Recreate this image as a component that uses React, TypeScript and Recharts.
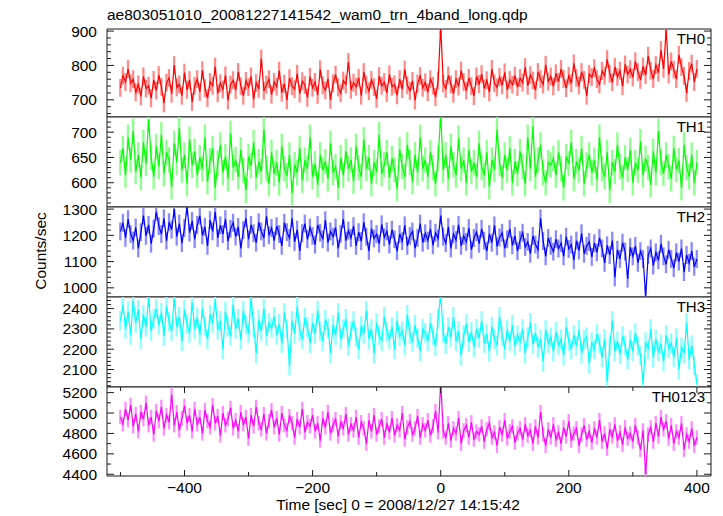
import React from "react";
import { ComposedChart, Line, Bar, XAxis, YAxis, ReferenceArea } from "recharts";

// light curve, 4 s bins starting at -500 s
const START_SEC = -500;
const BIN_SEC = 4;

const TH0 = [
  735, 770, 752, 790, 748, 760, 722, 745, 710, 768, 733, 741, 705, 758, 727,
  772, 738, 690, 750, 764, 718, 801, 736, 745, 712, 779, 729, 758, 694, 741,
  760, 723, 786, 734, 705, 752, 741, 796, 719, 748, 730, 771, 698, 744, 757,
  728, 781, 740, 712, 755, 737, 768, 702, 749, 732, 820, 726, 744, 760, 715,
  752, 738, 785, 721, 747, 699, 763, 740, 731, 776, 718, 754, 743, 706, 767,
  735, 752, 714, 789, 742, 728, 761, 700, 748, 773, 736, 719, 756, 745, 810,
  729, 750, 738, 764, 712, 781, 744, 725, 758, 737, 703, 769, 741, 752, 720,
  774, 738, 745, 713, 760, 731, 788, 742, 726, 755, 698, 747, 769, 735, 751,
  722, 760, 741, 708, 756, 915,
  748, 732, 771, 745, 718, 760, 739, 785, 752, 727, 764, 740, 711, 768,
  746, 775, 733, 757, 722, 790, 748, 736, 766, 742, 780, 729, 758, 744, 770,
  737, 763, 750, 795, 741, 772, 756, 728, 781, 760, 745, 802, 753, 768, 739,
  777, 752, 790, 761, 734, 770, 748, 806, 764, 742, 781, 758, 712, 775, 766,
  792, 760, 745, 784, 770, 818, 776, 751, 796, 767, 785, 740, 803, 774, 789,
  765, 812, 781, 758, 797, 772, 828, 785, 761, 801, 779, 845, 790, 905, 774,
  812, 788, 760, 831, 795, 770, 720, 784, 805, 752, 790,
];

const TH1 = [
  640, 668, 615, 690, 645, 702, 622, 655, 610, 680, 638, 725, 650, 612, 672,
  632, 695, 618, 660, 645, 592, 678, 640, 708, 625, 655, 598, 686, 635, 662,
  615, 650, 628, 690, 602, 644, 668, 590, 639, 675, 620, 652, 608, 698, 630,
  646, 612, 665, 625, 585, 652, 634, 680, 610, 642, 622, 705, 628, 598, 660,
  618, 640, 600, 672, 628, 614, 655, 580, 636, 620, 668, 605, 645, 628, 690,
  612, 638, 596, 655, 625, 642, 608, 678, 620, 632, 590, 650, 615, 662, 628,
  645, 603, 672, 630, 612, 685, 628, 650, 598, 640, 622, 695, 618, 636, 660,
  610, 648, 626, 588, 666, 632, 612, 675, 640, 602, 655, 620, 690, 628, 645,
  612, 660, 630, 598, 648, 735,
  625, 655, 608, 672, 636, 615, 688, 628, 645, 600, 665, 622, 640, 612,
  678, 630, 615, 660, 592, 645, 626, 705, 638, 610, 655, 625, 668, 600, 642,
  618, 662, 632, 598, 690, 628, 712, 612, 645, 675, 620, 600, 640, 635, 648,
  615, 660, 628, 590, 652, 638, 680, 608, 642, 625, 668, 598, 635, 655, 620,
  645, 606, 690, 628, 612, 660, 585, 640, 622, 675, 632, 610, 650, 626, 664,
  600, 640, 625, 682, 615, 648, 630, 596, 662, 620, 702, 640, 618, 655, 632,
  608, 668, 626, 644, 590, 675, 630, 612, 655, 600, 640,
];

const TH2 = [
  1215, 1248, 1190, 1262, 1205, 1180, 1230, 1150, 1212, 1275, 1198, 1240, 1168, 1225, 1290,
  1235, 1205, 1265, 1180, 1250, 1222, 1300, 1195, 1245, 1170, 1228, 1310, 1210, 1255, 1185,
  1240, 1275, 1200, 1232, 1160, 1258, 1215, 1290, 1190, 1238, 1205, 1262, 1178, 1225, 1248,
  1195, 1232, 1150, 1220, 1265, 1185, 1240, 1208, 1172, 1250, 1215, 1190, 1272, 1200, 1228,
  1180, 1235, 1205, 1160, 1248, 1212, 1190, 1265, 1175, 1222, 1140, 1208, 1245, 1185, 1230,
  1198, 1165, 1240, 1210, 1185, 1258, 1172, 1215, 1195, 1230, 1150, 1205, 1262, 1180, 1218,
  1190, 1235, 1160, 1212, 1178, 1250, 1195, 1140, 1225, 1188, 1205, 1168, 1242, 1192, 1215,
  1165, 1222, 1185, 1140, 1205, 1178, 1238, 1160, 1198, 1215, 1150, 1190, 1245, 1172, 1208,
  1180, 1225, 1162, 1210, 1188, 1275,
  1195, 1170, 1232, 1150, 1205, 1182, 1240, 1160, 1198, 1175, 1228, 1145, 1190, 1212,
  1168, 1225, 1180, 1140, 1205, 1172, 1238, 1158, 1192, 1210, 1150, 1185, 1225, 1162, 1198,
  1140, 1182, 1210, 1155, 1175, 1130, 1198, 1165, 1145, 1265, 1178, 1120, 1190, 1160, 1138,
  1185, 1150, 1170, 1120, 1195, 1148, 1165, 1105, 1180, 1142, 1208, 1130, 1160, 1175, 1118,
  1170, 1135, 1190, 1150, 1095, 1162, 1125, 1180, 1040, 1145, 1110, 1172, 1138, 1035, 1155,
  1120, 1160, 1095, 1140, 1110, 970, 1125, 1150, 1085, 1135, 1105, 1168, 1120, 1090, 1145,
  1110, 1075, 1135, 1100, 1150, 1060, 1125, 1095, 1140, 1080, 1110,
];

const TH3 = [
  2340, 2420, 2300, 2385, 2270, 2440, 2330, 2395, 2250, 2370, 2310, 2455, 2290, 2350, 2400,
  2320, 2380, 2265, 2410, 2335, 2290, 2450, 2310, 2360, 2240, 2395, 2325, 2280, 2430, 2300,
  2355, 2270, 2400, 2315, 2250, 2370, 2330, 2445, 2295, 2340, 2200, 2385, 2310, 2265, 2420,
  2300, 2350, 2245, 2390, 2320, 2280, 2455, 2310, 2180, 2345, 2290, 2400, 2265, 2330, 2305,
  2360, 2270, 2325, 2230, 2380, 2300, 2120, 2340, 2275, 2410, 2290, 2250, 2355, 2310, 2230,
  2330, 2275, 2390, 2290, 2240, 2345, 2305, 2180, 2320, 2270, 2380, 2250, 2300, 2350, 2215,
  2290, 2340, 2260, 2200, 2315, 2275, 2390, 2250, 2300, 2180, 2330, 2270, 2240, 2360, 2285,
  2250, 2310, 2200, 2340, 2265, 2290, 2220, 2370, 2275, 2235, 2320, 2255, 2190, 2300, 2280,
  2240, 2330, 2270, 2215, 2350, 2470,
  2280, 2225, 2310, 2260, 2360, 2240, 2290, 2170, 2270, 2325, 2235, 2285, 2210, 2300,
  2255, 2340, 2230, 2275, 2190, 2310, 2250, 2220, 2360, 2265, 2200, 2295, 2240, 2320, 2215,
  2270, 2235, 2300, 2180, 2260, 2330, 2225, 2280, 2210, 2250, 2140, 2295, 2230, 2260, 2190,
  2285, 2220, 2250, 2170, 2310, 2240, 2200, 2270, 2215, 2295, 2180, 2245, 2260, 2130, 2235,
  2200, 2275, 2230, 2160, 2250, 2040, 2215, 2340, 2190, 2240, 2175, 2265, 2220, 2150, 2245,
  2190, 2280, 2215, 2170, 2030, 2235, 2200, 2300, 2160, 2250, 2190, 2225, 2140, 2270, 2205,
  2230, 2160, 2255, 2100, 2210, 2180, 2330, 2150, 2220, 2120, 2030,
];

const TH0123 = [
  4960, 4890, 5040, 4930, 5080, 4870, 4990, 4820, 5010, 4940, 5100, 4880, 4960, 4790, 5020,
  4920, 5060, 4850, 4980, 4910, 5180, 4880, 5010, 4830, 4950, 5070, 4900, 4980, 4820, 5040,
  4890, 4960, 4800, 5030, 4920, 4860, 5080, 4900, 4970, 4780, 5000, 4880, 4940, 5050, 4850,
  4930, 4820, 5010, 4890, 4960, 4750, 4980, 4870, 5060, 4900, 4840, 4990, 4800, 4920, 5030,
  4860, 4950, 4790, 5000, 4880, 4830, 4970, 4900, 4760, 4940, 4860, 5040, 4810, 4910, 4870,
  4980, 4820, 4900, 4730, 4950, 4860, 5010, 4800, 4880, 4940, 4770, 4910, 4850, 4990, 4790,
  4890, 4830, 4960, 4760, 4910, 4850, 4700, 4930, 4820, 4980, 4790, 4870, 4940, 4760, 4900,
  4810, 4950, 4780, 4880, 4830, 5000, 4740, 4860, 4920, 4790, 4850, 4970, 4760, 4890, 4830,
  4930, 4780, 4870, 5020, 4810, 5300,
  4820, 4760, 4900, 4730, 4850, 4800, 4950, 4700, 4830, 4880, 4760, 4910, 4740, 4820,
  4790, 4870, 4720, 4840, 4900, 4760, 4810, 4680, 4860, 4790, 4930, 4750, 4820, 4870, 4710,
  4800, 4850, 4740, 4890, 4780, 4830, 4700, 4870, 4760, 5010, 4790, 4680, 4840, 4760, 4890,
  4740, 4810, 4700, 4860, 4770, 4920, 4730, 4800, 4850, 4680, 4790, 4880, 4740, 4820, 4710,
  4850, 4760, 4930, 4720, 4800, 4650, 4840, 4770, 4890, 4730, 4810, 4690, 4860, 4750, 4800,
  4720, 4880, 4760, 4640, 4830, 4400, 4790, 4860, 4720, 4900, 4770, 4960, 4840, 4920, 4750,
  4880, 4700, 4820, 4760, 4900, 4640, 4790, 4720, 4850, 4680, 4760,
];

// 1-sigma errors (counts/sec)
const TH0_ERR = 26;
const TH1_ERR = 25;
const TH2_ERR = 34;
const TH3_ERR = 48;
const TH0123_ERR = 70;

const X_TICKS = [-500, -400, -300, -200, -100, 0, 100, 200, 300, 400];
const X_MAJOR = [-400, -200, 0, 200, 400];

const TH0_TICKS = [660, 680, 700, 720, 740, 760, 780, 800, 820, 840, 860, 880, 900];
const TH0_MAJOR = [700, 800, 900];
const TH1_TICKS = [560, 570, 580, 590, 600, 610, 620, 630, 640, 650, 660, 670, 680, 690, 700, 710, 720];
const TH1_MAJOR = [600, 650, 700];
const TH2_TICKS = [980, 1000, 1020, 1040, 1060, 1080, 1100, 1120, 1140, 1160, 1180, 1200, 1220, 1240, 1260, 1280, 1300];
const TH2_MAJOR = [1000, 1100, 1200, 1300];
const TH3_TICKS = [2020, 2040, 2060, 2080, 2100, 2120, 2140, 2160, 2180, 2200, 2220, 2240, 2260, 2280, 2300, 2320, 2340, 2360, 2380, 2400, 2420, 2440];
const TH3_MAJOR = [2100, 2200, 2300, 2400];
const TH0123_TICKS = [4400, 4500, 4600, 4700, 4800, 4900, 5000, 5100, 5200];
const TH0123_MAJOR = [4400, 4600, 4800, 5000, 5200];

const FONT = '"Liberation Sans", Arial, Helvetica, sans-serif';
const W = 723;
const H = 516;
const PLOT_LEFT = 107;
const PLOT_RIGHT = 711;
const PAD = 12; // room above each plot so the top tick label is not cut
const X_DOMAIN: [number, number] = [-521, 422];
const INK = "#1a1a1a";

const PANELS = [
  { name: "TH0", values: TH0, err: TH0_ERR, color: "#ff0000", light: "#ff8a8a", domain: [650, 906], ticks: TH0_TICKS, majors: TH0_MAJOR, top: 29, height: 88 },
  { name: "TH1", values: TH1, err: TH1_ERR, color: "#00ff00", light: "#8cff8c", domain: [552, 730], ticks: TH1_TICKS, majors: TH1_MAJOR, top: 117, height: 90 },
  { name: "TH2", values: TH2, err: TH2_ERR, color: "#0000ff", light: "#8a8aff", domain: [965, 1308], ticks: TH2_TICKS, majors: TH2_MAJOR, top: 207, height: 90 },
  { name: "TH3", values: TH3, err: TH3_ERR, color: "#00ffff", light: "#8cffff", domain: [2014, 2457], ticks: TH3_TICKS, majors: TH3_MAJOR, top: 297, height: 90 },
  { name: "TH0123", values: TH0123, err: TH0123_ERR, color: "#ff00ff", light: "#ff8cff", domain: [4383, 5255], ticks: TH0123_TICKS, majors: TH0123_MAJOR, top: 387, height: 89 },
];

const fmtX = (v: number) => (v < 0 ? "\u2212" + Math.abs(v) : String(v));

function YTick(props: any) {
  const { y, payload, majors } = props;
  const major = majors.includes(payload.value);
  const len = major ? 7 : 4;
  return (
    <g>
      <line x1={PLOT_LEFT} x2={PLOT_LEFT + len} y1={y} y2={y} stroke={INK} />
      <line x1={PLOT_RIGHT - len} x2={PLOT_RIGHT} y1={y} y2={y} stroke={INK} />
      {major && (
        <text x={PLOT_LEFT - 10} y={y} dy="0.36em" textAnchor="end" fontSize={15.5} fontFamily={FONT} fill="#000">
          {payload.value}
        </text>
      )}
    </g>
  );
}

function XTick(props: any) {
  const { x, y, payload, plotH, showLabel } = props;
  const major = X_MAJOR.includes(payload.value);
  const len = major ? 6 : 4;
  const top = y - plotH;
  return (
    <g>
      <line x1={x} x2={x} y1={y} y2={y - len} stroke={INK} />
      <line x1={x} x2={x} y1={top} y2={top + len} stroke={INK} />
      {showLabel && major && (
        <text x={x} y={y + 17} textAnchor="middle" fontSize={15.5} fontFamily={FONT} fill="#000">
          {fmtX(payload.value)}
        </text>
      )}
    </g>
  );
}

function Panel({ p, last }: { p: (typeof PANELS)[number]; last: boolean }) {
  const rows = p.values.map((v, i) => ({ t: START_SEC + i * BIN_SEC, v, band: [v - p.err, v + p.err] }));
  const axisH = last ? 40 : 0;
  const h = p.height + axisH + PAD;
  return (
    <div style={{ position: "absolute", left: 0, top: p.top - PAD, width: W, height: h }}>
      <ComposedChart width={W} height={h} data={rows} margin={{ top: PAD, right: W - PLOT_RIGHT, bottom: 0, left: 0 }}>
        <XAxis
          type="number"
          dataKey="t"
          domain={X_DOMAIN}
          allowDataOverflow
          ticks={X_TICKS}
          interval={0}
          tickSize={0}
          tickMargin={0}
          axisLine={false}
          tickLine={false}
          height={axisH}
          tick={<XTick plotH={p.height} showLabel={last} />}
        />
        <YAxis
          type="number"
          domain={p.domain}
          allowDataOverflow
          ticks={p.ticks}
          interval={0}
          width={PLOT_LEFT}
          tickSize={0}
          tickMargin={0}
          axisLine={false}
          tickLine={false}
          tick={<YTick majors={p.majors} />}
        />
        <Bar dataKey="band" fill={p.light} barSize={3} isAnimationActive={false} />
        <Line dataKey="v" stroke={p.color} strokeWidth={1.2} dot={false} isAnimationActive={false} />
        <ReferenceArea
          x1={X_DOMAIN[0]}
          x2={X_DOMAIN[1]}
          y1={p.domain[0]}
          y2={p.domain[1]}
          fill="none"
          stroke={INK}
          strokeWidth={1}
        />
      </ComposedChart>
    </div>
  );
}

export default function App() {
  return (
    <div style={{ position: "absolute", left: 0, top: 0, width: W, height: H, background: "#fff", fontFamily: FONT }}>
      {PANELS.map((p, i) => (
        <Panel key={p.name} p={p} last={i === PANELS.length - 1} />
      ))}
      <svg width={W} height={H} style={{ position: "absolute", left: 0, top: 0, pointerEvents: "none" }}>
        <text x={107} y={20} fontSize={15.5} fontFamily={FONT} fill="#000">
          ae803051010_20081227141542_wam0_trn_4band_long.qdp
        </text>
        <text x={46} y={251} transform="rotate(-90 46 251)" textAnchor="middle" fontSize={15.5} fontFamily={FONT} fill="#000">
          Counts/sec
        </text>
        <text x={398} y={510} textAnchor="middle" fontSize={15.5} fontFamily={FONT} fill="#000">
          Time [sec] 0 = 2008/12/27 14:15:42
        </text>
        {PANELS.map((p) => (
          <text key={p.name} x={705} y={p.top + 15} textAnchor="end" fontSize={15} fontFamily={FONT} fill="#000">
            {p.name}
          </text>
        ))}
      </svg>
    </div>
  );
}
